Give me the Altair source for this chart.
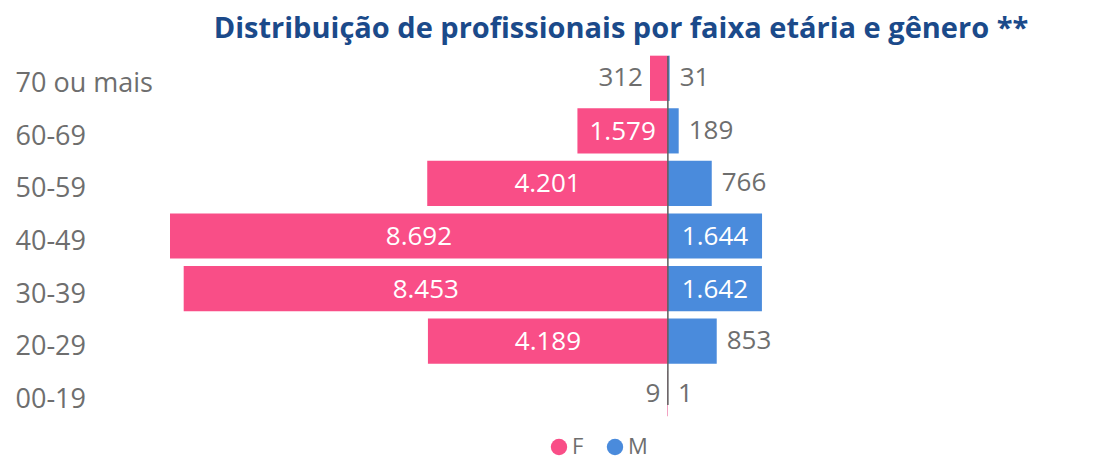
import altair as alt
import pandas as pd

categories = ["70 ou mais", "60-69", "50-59", "40-49", "30-39", "20-29", "00-19"]
female = [312, 1579, 4201, 8692, 8453, 4189, 9]
male = [31, 189, 766, 1644, 1642, 853, 1]

def fmt(v):
    return f"{v:,}".replace(",", ".")

rows = []
for c, f, m in zip(categories, female, male):
    rows.append({"faixa": c, "genero": "F", "valor": f, "sv": -f, "label": fmt(f)})
    rows.append({"faixa": c, "genero": "M", "valor": m, "sv": m, "label": fmt(m)})
df = pd.DataFrame(rows)

FONT = "Open Sans"
PINK = "#F94E87"
BLUE = "#4A8BDC"
GREY = "#6E6E6E"

W, H = 912, 368
xs = alt.Scale(domain=[-8692, 7230], nice=False, zero=False)
ys = alt.Scale(domain=categories, paddingInner=0.14, paddingOuter=0.07)

base = alt.Chart(df)

bars = base.mark_bar().encode(
    x=alt.X("sv:Q", scale=xs, axis=None),
    x2=alt.datum(0),
    y=alt.Y("faixa:N", scale=ys, sort=categories, title=None,
            axis=alt.Axis(domain=False, ticks=False, labelAlign="left", labelPadding=155,
                          labelFont=FONT, labelFontSize=27, labelColor=GREY, labelOffset=6)),
    color=alt.Color("genero:N", scale=alt.Scale(domain=["F", "M"], range=[PINK, BLUE]),
                    legend=alt.Legend(title=None, orient="none", legendX=378, legendY=384,
                                      direction="horizontal", symbolType="circle", symbolSize=270,
                                      symbolStrokeWidth=0, labelFont=FONT, labelFontSize=22,
                                      labelColor=GREY, columnPadding=20, labelOffset=2)),
)

inside = "datum.valor >= 1500"

txt_in = base.transform_filter(inside).transform_calculate(mid="datum.sv/2").mark_text(
    font=FONT, fontSize=26, color="white", baseline="middle", dy=1
).encode(x=alt.X("mid:Q", scale=xs), y=alt.Y("faixa:N", scale=ys, sort=categories), text="label:N")

txt_out_f = base.transform_filter(f"!({inside}) && datum.genero == 'F'").mark_text(
    font=FONT, fontSize=26, color=GREY, align="right", baseline="middle", dx=-7, dy=0
).encode(x=alt.X("sv:Q", scale=xs), y=alt.Y("faixa:N", scale=ys, sort=categories), text="label:N")

txt_out_m = base.transform_filter(f"!({inside}) && datum.genero == 'M'").mark_text(
    font=FONT, fontSize=26, color=GREY, align="left", baseline="middle", dx=10, dy=0
).encode(x=alt.X("sv:Q", scale=xs), y=alt.Y("faixa:N", scale=ys, sort=categories), text="label:N")

rule = alt.Chart(pd.DataFrame({"z": [0]})).mark_rule(color="#5E5E5E", strokeWidth=1.5).encode(
    x=alt.X("z:Q", scale=xs), y=alt.value(4), y2=alt.value(353)
)

chart = alt.layer(bars, rule, txt_in, txt_out_f, txt_out_m).properties(
    width=W, height=H,
    title=alt.TitleParams("Distribuição de profissionais por faixa etária e gênero **",
                          font=FONT, fontSize=29, fontWeight="bold", color="#1B4A8A",
                          anchor="middle", offset=8, dx=-5),
    autosize=alt.AutoSizeParams(type="none"),
    padding={"left": 162, "top": 44, "right": 5, "bottom": 40},
    background="white",
).configure_view(stroke=None)

chart.save("out.html", embed_options={"renderer": "svg", "actions": False})
